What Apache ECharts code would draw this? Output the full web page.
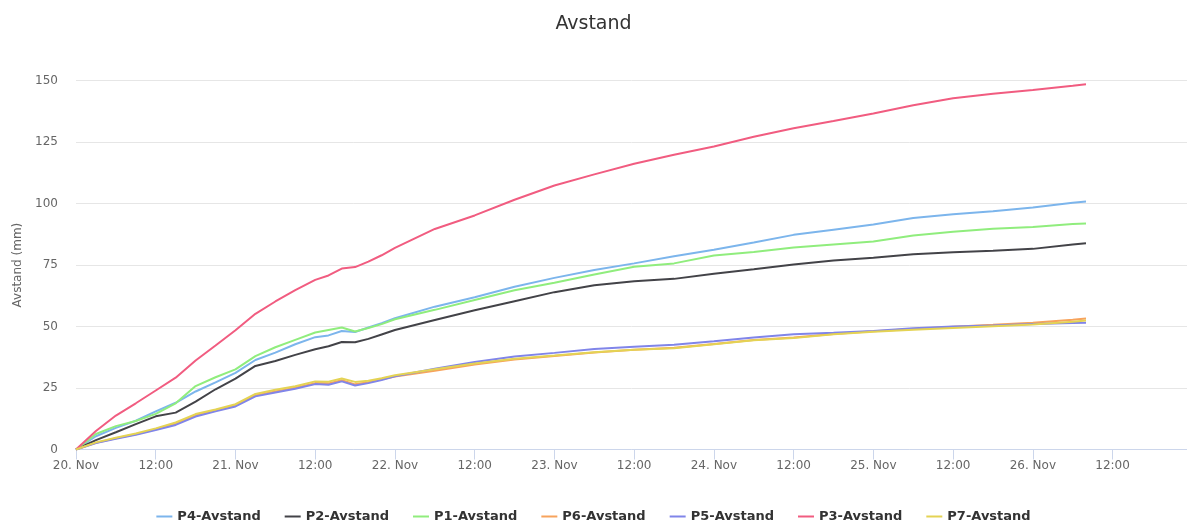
<!DOCTYPE html>
<html>
<head>
<meta charset="utf-8">
<script src="https://cdn.jsdelivr.net/npm/echarts@6/dist/echarts.min.js"></script>
<style>
html,body{margin:0;padding:0;background:#fff;}
#chart{width:1187px;height:521px;}
</style>
</head>
<body>
<div id="chart"></div>
<script>
// Hours since 20. Nov 00:00
const hours = [0,3,6,9,12,15,18,21,24,27,30,33,36,38,40,42,44,46,48,54,60,66,72,78,84,90,96,102,108,114,120,126,132,138,144,150,152];

const seriesNames = ['P4-Avstand','P2-Avstand','P1-Avstand','P6-Avstand','P5-Avstand','P3-Avstand','P7-Avstand'];
const seriesColors = ['#7cb5ec','#434348','#90ed7d','#f7a35c','#8085e9','#f15c80','#e4d354'];

const p4 = [0,5.4,8.8,11.7,15.5,19.0,23.6,27.3,31.2,36.4,39.4,42.8,45.7,46.4,48.2,47.8,49.6,51.4,53.4,58.1,61.9,66.2,69.8,73.0,75.7,78.6,81.2,84.2,87.3,89.4,91.5,94.2,95.7,96.9,98.4,100.4,100.9];
const p2 = [0,3.8,7.0,10.3,13.5,15.0,19.5,24.5,28.8,34.0,36.0,38.5,40.8,42.0,43.7,43.6,45.0,46.8,48.6,52.7,56.6,60.3,64.0,66.8,68.4,69.4,71.5,73.3,75.2,76.9,78.0,79.4,80.2,80.8,81.6,83.4,83.9];
const p1 = [0,6.3,9.5,11.6,14.5,18.8,25.8,29.4,32.6,38.0,41.6,44.6,47.6,48.6,49.6,48.0,49.4,51.0,53.0,56.8,60.8,64.8,67.8,71.2,74.3,75.7,78.9,80.3,82.2,83.4,84.6,87.0,88.6,89.8,90.5,91.7,91.9];
const p6 = [0,2.7,4.6,6.2,8.2,10.4,13.8,15.8,17.9,22.0,23.6,25.1,27.0,26.9,28.2,26.5,27.4,28.6,29.7,32.0,34.6,36.6,38.0,39.5,40.6,41.4,42.9,44.5,45.6,47.0,48.1,49.0,49.9,50.7,51.6,52.8,53.3];
const p5 = [0,2.6,4.4,6.0,7.9,10.0,13.4,15.5,17.5,21.6,23.2,24.7,26.6,26.3,27.7,26.0,27.0,28.3,29.8,32.8,35.6,37.8,39.3,40.9,41.8,42.6,44.0,45.6,46.9,47.5,48.2,49.3,50.0,50.4,51.0,51.5,51.6];
const p3 = [0,7.5,13.8,18.8,24.0,29.2,36.2,42.3,48.5,55.2,60.2,64.8,69.0,70.8,73.6,74.2,76.4,79.0,82.0,89.7,95.2,101.6,107.4,111.9,116.2,119.9,123.2,127.2,130.7,133.6,136.7,140.0,142.9,144.7,146.2,147.9,148.6];
const p7 = [0,2.9,4.8,6.5,8.6,11.0,14.4,16.3,18.4,22.6,24.3,25.7,27.7,27.6,28.9,27.5,28.0,29.0,30.2,32.6,35.0,36.9,38.2,39.6,40.6,41.2,42.8,44.4,45.3,46.9,47.9,48.7,49.4,50.1,50.8,52.0,52.5];

const seriesValues = [p4,p2,p1,p6,p5,p3,p7];

const yTicks = [0,25,50,75,100,125,150];
const xTicks = [0,12,24,36,48,60,72,84,96,108,120,132,144,156];
const startDay = 20;

const chart = echarts.init(document.getElementById('chart'), null, {renderer:'canvas'});

const series = seriesNames.map((name,i)=>({
  name: name,
  type: 'line',
  symbol: 'none',
  showSymbol: false,
  smooth: false,
  data: hours.map((h,j)=>[h, seriesValues[i][j]]),
  lineStyle: {width: 2, color: seriesColors[i]},
  itemStyle: {color: seriesColors[i]},
  emphasis: {disabled: true}
}));

chart.setOption({
  animation: false,
  backgroundColor: '#ffffff',
  title: {
    text: 'Avstand',
    left: 'center',
    top: 10,
    textStyle: {fontFamily: 'DejaVu Sans', fontSize: 19, fontWeight: 'normal', color: '#333333'}
  },
  legend: {
    top: 505,
    left: 'center',
    itemWidth: 16,
    itemHeight: 10,
    itemGap: 24,
    icon: 'path://M0,4 L16,4 L16,6 L0,6 Z',
    textStyle: {fontFamily: 'DejaVu Sans', fontSize: 13, fontWeight: 'bold', color: '#333333'},
    data: seriesNames.map((n,i)=>({name:n, itemStyle:{color:seriesColors[i]}}))
  },
  grid: {left: 76, right: 0, top: 80.7, bottom: 71.5, containLabel: false},
  xAxis: {
    type: 'value',
    min: 0,
    max: 167.2,
    axisLine: {show: true, lineStyle: {color: '#ccd6eb', width: 1}},
    axisTick: {show: true, length: 10, lineStyle: {color: '#ccd6eb'}, customValues: xTicks},
    splitLine: {show: false},
    axisLabel: {
      color: '#666666',
      fontFamily: 'DejaVu Sans',
      fontSize: 12,
      margin: 10,
      customValues: xTicks,
      formatter: function(v){
        if (v % 24 === 0) return (startDay + v/24) + '. Nov';
        return '12:00';
      }
    }
  },
  yAxis: {
    type: 'value',
    min: yTicks[0],
    max: yTicks[yTicks.length-1],
    interval: 25,
    name: 'Avstand (mm)',
    nameLocation: 'middle',
    nameGap: 52,
    nameTextStyle: {color: '#666666', fontFamily: 'DejaVu Sans', fontSize: 12},
    axisLine: {show: false},
    axisTick: {show: false},
    splitLine: {show: true, lineStyle: {color: '#e6e6e6', width: 1}},
    axisLabel: {color: '#666666', fontFamily: 'DejaVu Sans', fontSize: 12, margin: 18}
  },
  series: series
});
</script>
</body>
</html>
